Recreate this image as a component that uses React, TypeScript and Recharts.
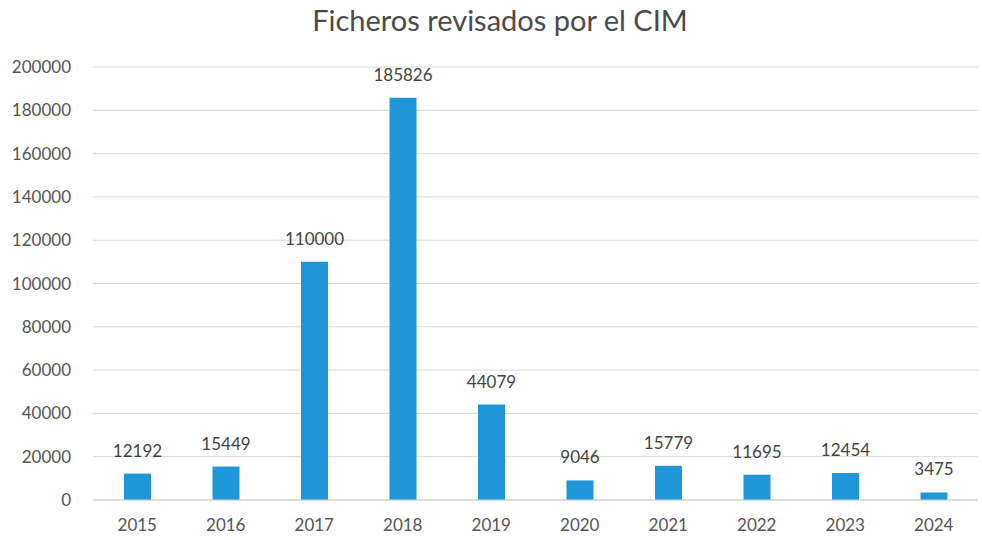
import { BarChart, Bar, XAxis, YAxis, CartesianGrid, LabelList } from "recharts"

const years = ["2015", "2016", "2017", "2018", "2019", "2020", "2021", "2022", "2023", "2024"]
const ficheros = [12192, 15449, 110000, 185826, 44079, 9046, 15779, 11695, 12454, 3475]
const yTicks = [0, 20000, 40000, 60000, 80000, 100000, 120000, 140000, 160000, 180000, 200000]

const data = years.map((year, i) => ({ year, ficheros: ficheros[i] }))

const font = "Lato, 'Open Sans', sans-serif"

export default function App() {
  return (
    <div style={{ position: "absolute", left: 0, top: 0, width: 982, height: 540, background: "#fff", fontFamily: font }}>
      <div
        style={{
          position: "absolute",
          top: 2,
          left: 0,
          width: 1000,
          textAlign: "center",
          fontSize: 29,
          color: "#4a4a4a",
        }}
      >
        Ficheros revisados por el CIM
      </div>
      <BarChart
        width={982}
        height={540}
        data={data}
        margin={{ top: 67, right: 4, bottom: 10, left: 0 }}
      >
        <CartesianGrid vertical={false} stroke="#d9d9d9" />
        <XAxis
          dataKey="year"
          tickLine={false}
          axisLine={{ stroke: "#d0d0d0" }}
          tick={{ fill: "#555", fontSize: 17, fontFamily: font }}
          height={30}
          tickMargin={13}
        />
        <YAxis
          domain={[0, 200000]}
          ticks={yTicks}
          tickLine={false}
          axisLine={false}
          width={93}
          tick={{ fill: "#555", fontSize: 17, fontFamily: font }}
          tickMargin={16}
        />
        <Bar dataKey="ficheros" fill="#1f96d8" barSize={27} isAnimationActive={false}>
          <LabelList dataKey="ficheros" position="top" offset={17} fill="#444" fontSize={17} fontFamily={font} />
        </Bar>
      </BarChart>
    </div>
  )
}
